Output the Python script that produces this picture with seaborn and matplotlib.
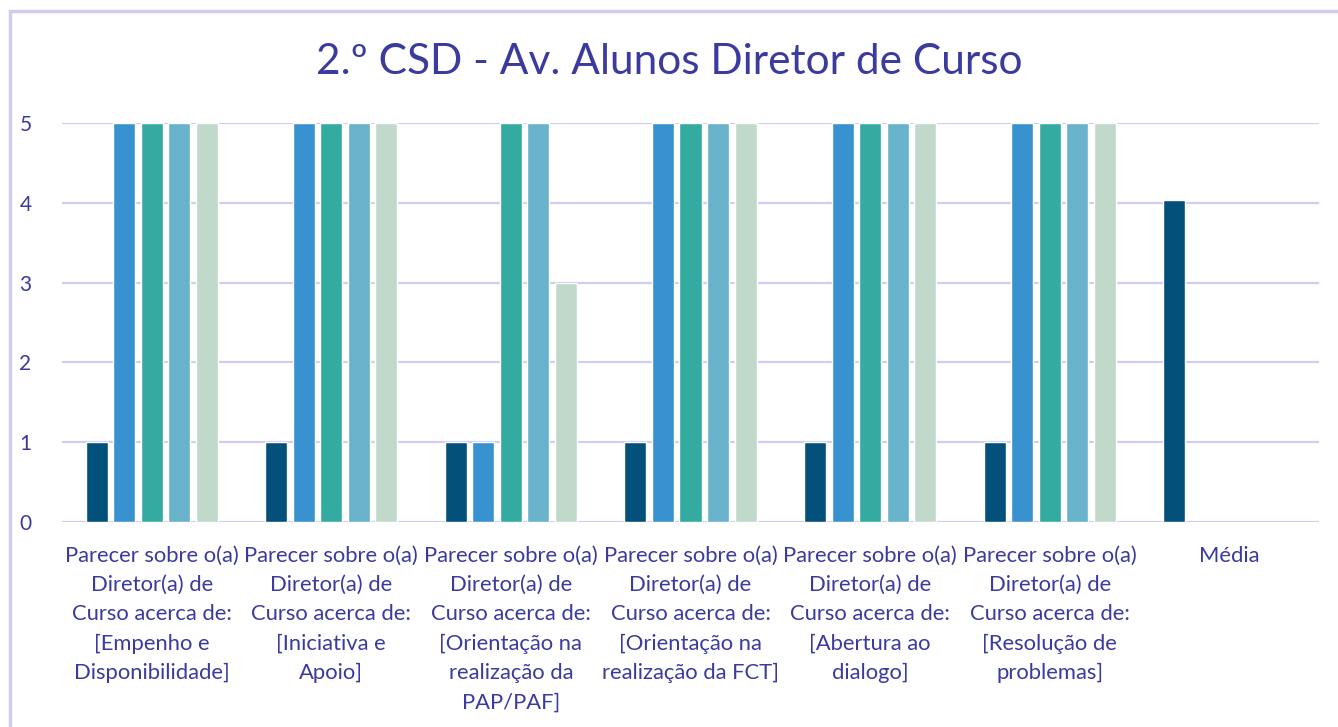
import matplotlib
matplotlib.use("Agg")
import matplotlib.pyplot as plt
import seaborn as sns
import pandas as pd
import numpy as np
from matplotlib.patches import Rectangle

prefix = "Parecer sobre o(a)\nDiretor(a) de\nCurso acerca de:\n"
categories = [
    prefix + "[Empenho e\nDisponibilidade]",
    prefix + "[Iniciativa e\nApoio]",
    prefix + "[Orientação na\nrealização da\nPAP/PAF]",
    prefix + "[Orientação na\nrealização da FCT]",
    prefix + "[Abertura ao\ndialogo]",
    prefix + "[Resolução de\nproblemas]",
    "Média",
]
series_names = ["Série 1", "Série 2", "Série 3", "Série 4", "Série 5"]
s1 = [1, 1, 1, 1, 1, 1, 4.03]
s2 = [5, 5, 1, 5, 5, 5, np.nan]
s3 = [5, 5, 5, 5, 5, 5, np.nan]
s4 = [5, 5, 5, 5, 5, 5, np.nan]
s5 = [5, 5, 3, 5, 5, 5, np.nan]
colors = ["#03517a", "#3892cf", "#34aba1", "#68b3cb", "#c1d9cb"]
yticks = [0, 1, 2, 3, 4, 5]
title = "2.º CSD - Av. Alunos Diretor de Curso"

text_color = "#3b3a9e"
grid_color = "#d2cdf0"

rows = []
for name, vals in zip(series_names, [s1, s2, s3, s4, s5]):
    for c, v in zip(categories, vals):
        rows.append({"cat": c, "serie": name, "val": v})
df = pd.DataFrame(rows)

sns.set_theme(style="white")
plt.rcParams['font.family'] = ['Lato', 'DejaVu Sans']

W, H = 1338, 727
fig = plt.figure(figsize=(W / 100, H / 100), dpi=100)
ax = fig.add_axes([62 / W, 1 - 522 / H, (1319 - 62) / W, (522 - 123) / H])

sns.barplot(data=df, x="cat", y="val", hue="serie", order=categories,
            hue_order=series_names, palette=colors, width=0.766, gap=0.2,
            errorbar=None, legend=False, ax=ax, saturation=1, zorder=3)

ax.set_ylim(0, 5)
ax.set_xlim(-0.5, len(categories) - 0.5)
ax.set_yticks(yticks)
ax.set_yticklabels([str(t) for t in yticks])
ax.set_xlabel("")
ax.set_ylabel("")
for s in ax.spines.values():
    s.set_visible(False)
ax.yaxis.grid(True, color=grid_color, lw=1.6, zorder=0)
ax.set_axisbelow(True)
ax.tick_params(axis="both", length=0, colors=text_color)
ax.tick_params(axis="y", pad=22, labelsize=15)
ax.tick_params(axis="x", pad=17, labelsize=15.8)
for lab in ax.get_xticklabels():
    lab.set_linespacing(1.58)
    lab.set_va("top")

fig.text(0.5, 1 - 62 / H, title, ha="center", va="center", fontsize=30.5,
         color=text_color)

fig.patches.append(Rectangle((10 / W, -0.05), 2, 1 - 11 / H + 0.05,
                             transform=fig.transFigure, fill=False,
                             edgecolor=grid_color, lw=2.5))

fig.savefig("out.png", dpi=100)
